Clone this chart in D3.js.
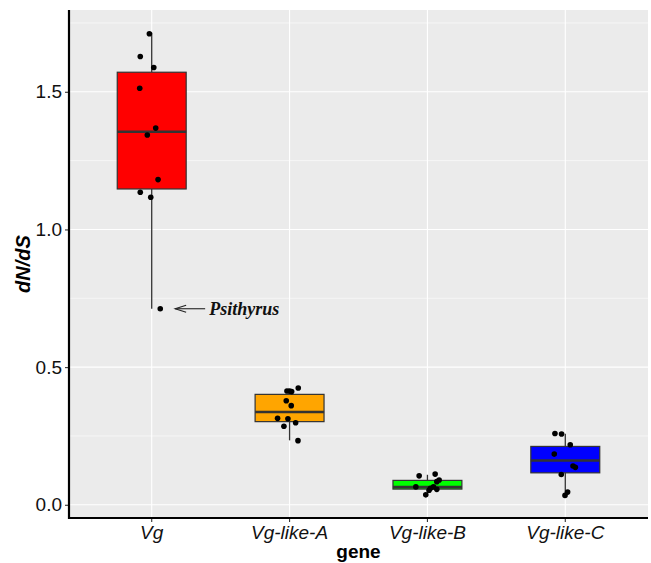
<!DOCTYPE html>
<html>
<head>
<meta charset="utf-8">
<script src="https://cdnjs.cloudflare.com/ajax/libs/d3/7.8.5/d3.min.js"></script>
<style>
body { margin: 0; background: #fff; }
svg { display: block; font-family: "Liberation Sans", Arial, sans-serif; }
</style>
</head>
<body>
<svg></svg>
<script>
var genes = ["Vg", "Vg-like-A", "Vg-like-B", "Vg-like-C"]
var fills = ["#FF0000", "#FFA500", "#00FF00", "#0000FF"]

// box summaries
var lowers = [0.712, 0.234, 0.036, 0.037]
var q1s = [1.147, 0.302, 0.057, 0.116]
var medians = [1.355, 0.337, 0.064, 0.161]
var q3s = [1.571, 0.401, 0.0886, 0.212]
var uppers = [1.714, 0.413, 0.109, 0.258]

// jittered points: value and horizontal offset (in category steps)
var vgValues = [1.711, 1.628, 1.588, 1.513, 1.368, 1.343, 1.181, 1.135, 1.117, 0.712]
var vgJitter = [-0.017, -0.083, 0.015, -0.087, 0.029, -0.032, 0.046, -0.083, -0.007, 0.062]
var aValues = [0.424, 0.413, 0.413, 0.411, 0.378, 0.360, 0.314, 0.3125, 0.298, 0.285, 0.233]
var aJitter = [0.063, -0.019, 0, 0.015, -0.024, 0.012, -0.087, -0.012, 0.044, -0.041, 0.061]
var bValues = [0.105, 0.1115, 0.090, 0.084, 0.065, 0.065, 0.060, 0.056, 0.053, 0.036]
var bJitter = [-0.060, 0.056, 0.085, 0.068, -0.084, 0.044, 0.022, 0.068, 0.012, -0.012]
var cValues = [0.259, 0.257, 0.218, 0.184, 0.141, 0.136, 0.110, 0.046, 0.034]
var cJitter = [-0.075, -0.027, 0.036, -0.080, 0.056, 0.073, -0.029, 0.017, -0.002]

var yTicks = [0, 0.5, 1.0, 1.5]
var yMinor = [0.25, 0.75, 1.25, 1.75]
var yDomain = [-0.048, 1.797]

var note = {gene: "Vg", value: 0.712, label: "Psithyrus"}

var screen = {width: 651, height: 563}
var margins = {top: 10, bottom: 45, left: 69, right: 3}

var width = screen.width - margins.left - margins.right
var height = screen.height - margins.top - margins.bottom

var svg = d3.select("svg")
    .attr("width", screen.width)
    .attr("height", screen.height)

var plot = svg.append("g")
    .attr("transform", "translate(" + margins.left + "," + margins.top + ")")

var xScale = d3.scaleBand()
    .domain(genes)
    .range([0, width])
    .paddingInner(0)
    .paddingOuter(0.1)

var yScale = d3.scaleLinear()
    .domain(yDomain)
    .range([height, 0])

var center = function(g) { return xScale(g) + xScale.bandwidth() / 2 }

// panel
plot.append("rect")
    .attr("width", width)
    .attr("height", height)
    .attr("fill", "#EBEBEB")

plot.selectAll(".minor")
    .data(yMinor)
    .enter()
    .append("line")
    .attr("x1", 0).attr("x2", width)
    .attr("y1", function(d) { return yScale(d) })
    .attr("y2", function(d) { return yScale(d) })
    .attr("stroke", "#fff")
    .attr("stroke-width", 0.55)

plot.selectAll(".major")
    .data(yTicks)
    .enter()
    .append("line")
    .attr("x1", 0).attr("x2", width)
    .attr("y1", function(d) { return yScale(d) })
    .attr("y2", function(d) { return yScale(d) })
    .attr("stroke", "#fff")
    .attr("stroke-width", 1.1)

plot.selectAll(".vgrid")
    .data(genes)
    .enter()
    .append("line")
    .attr("x1", center).attr("x2", center)
    .attr("y1", 0).attr("y2", height)
    .attr("stroke", "#fff")
    .attr("stroke-width", 1.1)

// boxes
var boxes = genes.map(function(g, i) {
    return {gene: g, fill: fills[i], lo: lowers[i], q1: q1s[i], med: medians[i], q3: q3s[i], hi: uppers[i]}
})
var boxW = xScale.step() * 0.5

var boxG = plot.selectAll(".box")
    .data(boxes)
    .enter()
    .append("g")

boxG.append("line")
    .attr("x1", function(d) { return center(d.gene) })
    .attr("x2", function(d) { return center(d.gene) })
    .attr("y1", function(d) { return yScale(d.hi) })
    .attr("y2", function(d) { return yScale(d.q3) })
    .attr("stroke", "#333")
    .attr("stroke-width", 1.3)

boxG.append("line")
    .attr("x1", function(d) { return center(d.gene) })
    .attr("x2", function(d) { return center(d.gene) })
    .attr("y1", function(d) { return yScale(d.q1) })
    .attr("y2", function(d) { return yScale(d.lo) })
    .attr("stroke", "#333")
    .attr("stroke-width", 1.3)

boxG.append("rect")
    .attr("x", function(d) { return center(d.gene) - boxW / 2 })
    .attr("y", function(d) { return yScale(d.q3) })
    .attr("width", boxW)
    .attr("height", function(d) { return yScale(d.q1) - yScale(d.q3) })
    .attr("fill", function(d) { return d.fill })
    .attr("stroke", "#333")
    .attr("stroke-width", 1.2)

boxG.append("line")
    .attr("x1", function(d) { return center(d.gene) - boxW / 2 })
    .attr("x2", function(d) { return center(d.gene) + boxW / 2 })
    .attr("y1", function(d) { return yScale(d.med) })
    .attr("y2", function(d) { return yScale(d.med) })
    .attr("stroke", "#333")
    .attr("stroke-width", 2.6)

// points
var points = []
var addPoints = function(gene, values, jitter)
{
    values.forEach(function(v, i) {
        points.push({gene: gene, value: v, jitter: jitter[i]})
    })
}
addPoints("Vg", vgValues, vgJitter)
addPoints("Vg-like-A", aValues, aJitter)
addPoints("Vg-like-B", bValues, bJitter)
addPoints("Vg-like-C", cValues, cJitter)

plot.selectAll(".pt")
    .data(points)
    .enter()
    .append("circle")
    .attr("cx", function(d) { return center(d.gene) + d.jitter * xScale.step() })
    .attr("cy", function(d) { return yScale(d.value) })
    .attr("r", 2.8)
    .attr("fill", "#000")

// annotation: open arrow pointing left at the outlier, label to its right
var tipX = center(note.gene) + 0.17 * xScale.step()
var noteY = yScale(note.value)
var ann = plot.append("g")
ann.append("line")
    .attr("x1", tipX).attr("x2", tipX + 30)
    .attr("y1", noteY).attr("y2", noteY)
    .attr("stroke", "#222")
    .attr("stroke-width", 1.1)
ann.append("path")
    .attr("d", "M" + (tipX + 11) + "," + (noteY - 3.5) + "L" + tipX + "," + noteY + "L" + (tipX + 11) + "," + (noteY + 3.5))
    .attr("fill", "none")
    .attr("stroke", "#222")
    .attr("stroke-width", 1.1)
ann.append("text")
    .attr("x", tipX + 34)
    .attr("y", noteY + 6)
    .attr("font-family", "'Liberation Serif', 'Times New Roman', serif")
    .attr("font-weight", "bold")
    .attr("font-style", "italic")
    .attr("font-size", "18px")
    .attr("fill", "#111")
    .text(note.label)

// axes
var xAxis = d3.axisBottom(xScale).tickSize(4).tickPadding(4)
var yAxis = d3.axisLeft(yScale).tickValues(yTicks).tickFormat(d3.format(".1f")).tickSize(4).tickPadding(3)

var gx = svg.append("g")
    .attr("transform", "translate(" + margins.left + "," + (margins.top + height) + ")")
    .call(xAxis)
gx.select(".domain").remove()
gx.append("line")
    .attr("x1", -1).attr("x2", width)
    .attr("stroke", "#000")
    .attr("stroke-width", 2.2)
gx.selectAll(".tick line").attr("stroke", "#333").attr("stroke-width", 1.1)
gx.selectAll(".tick text")
    .attr("font-size", "19px")
    .attr("font-style", "italic")
    .attr("fill", "#111")
    .attr("font-family", "'Liberation Sans', Arial, sans-serif")

var gy = svg.append("g")
    .attr("transform", "translate(" + margins.left + "," + margins.top + ")")
    .call(yAxis)
gy.select(".domain").remove()
gy.append("line")
    .attr("y1", 0).attr("y2", height + 1)
    .attr("stroke", "#000")
    .attr("stroke-width", 2.2)
gy.selectAll(".tick line").attr("stroke", "#333").attr("stroke-width", 1.1)
gy.selectAll(".tick text")
    .attr("font-size", "19px")
    .attr("fill", "#111")
    .attr("font-family", "'Liberation Sans', Arial, sans-serif")

svg.append("text")
    .attr("x", margins.left + width / 2)
    .attr("y", 558)
    .attr("text-anchor", "middle")
    .attr("font-weight", "bold")
    .attr("font-size", "19px")
    .attr("fill", "#000")
    .text("gene")

svg.append("text")
    .attr("transform", "translate(30," + (margins.top + height / 2) + ") rotate(-90)")
    .attr("text-anchor", "middle")
    .attr("font-weight", "bold")
    .attr("font-style", "italic")
    .attr("font-size", "20px")
    .attr("fill", "#000")
    .text("dN/dS")
</script>
</body>
</html>
